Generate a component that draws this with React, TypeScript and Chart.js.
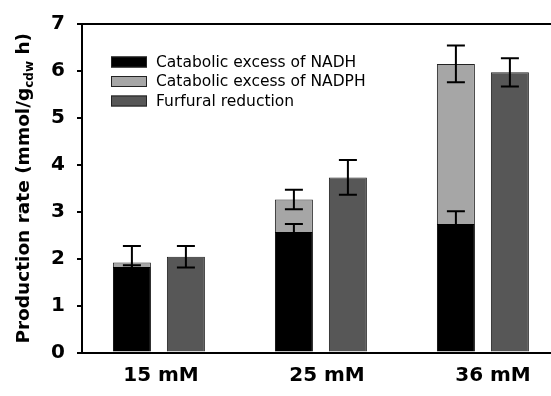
import React, { useEffect, useRef } from 'react';
import { Chart, registerables } from 'chart.js';

Chart.register(...registerables);

const categories = ['15 mM', '25 mM', '36 mM'];
const nadhExcess = [1.82, 2.57, 2.74];
const nadphExcess = [0.1, 0.69, 3.41];
const furfuralReduction = [2.04, 3.73, 5.97];
const nadhErr = [0.04, 0.17, 0.27];
const totalErr = [0.35, 0.21, 0.39];
const furfuralErr = [0.23, 0.37, 0.3];
const yTicks = [0, 1, 2, 3, 4, 5, 6, 7];
const seriesLabels = ['Catabolic excess of NADH', 'Catabolic excess of NADPH', 'Furfural reduction'];
const seriesColors = ['#000000', '#a6a6a6', '#575757'];

const FONT = "'DejaVu Sans', Verdana, sans-serif";

const errorBarPlugin = {
  id: 'errorBars',
  afterDatasetsDraw(chart: any) {
    const ctx = chart.ctx;
    const y = chart.scales.y;
    const totals = nadhExcess.map((v, i) => v + nadphExcess[i]);
    const specs = [
      { ds: 0, vals: nadhExcess, errs: nadhErr },
      { ds: 1, vals: totals, errs: totalErr },
      { ds: 2, vals: furfuralReduction, errs: furfuralErr },
    ];
    ctx.save();
    ctx.strokeStyle = '#000';
    ctx.lineWidth = 2;
    specs.forEach((s) => {
      const meta = chart.getDatasetMeta(s.ds);
      meta.data.forEach((el: any, i: number) => {
        const x = el.x;
        const yHi = y.getPixelForValue(s.vals[i] + s.errs[i]);
        const yLo = y.getPixelForValue(s.vals[i] - s.errs[i]);
        ctx.beginPath();
        ctx.moveTo(x, yLo);
        ctx.lineTo(x, yHi);
        ctx.moveTo(x - 9, yHi);
        ctx.lineTo(x + 9, yHi);
        ctx.moveTo(x - 9, yLo);
        ctx.lineTo(x + 9, yLo);
        ctx.stroke();
      });
    });
    ctx.restore();
  },
};

const decorPlugin = {
  id: 'decor',
  afterDraw(chart: any) {
    const ctx = chart.ctx;
    const a = chart.chartArea;
    ctx.save();
    // top frame line
    ctx.strokeStyle = '#000';
    ctx.lineWidth = 2;
    ctx.beginPath();
    ctx.moveTo(a.left - 5, a.top);
    ctx.lineTo(a.right, a.top);
    ctx.stroke();

    // legend
    const rows = [38, 57.5, 77];
    chart.data.datasets.forEach((ds: any, i: number) => {
      const cy = a.top + rows[i];
      const bx = a.left + 29;
      ctx.fillStyle = ds.backgroundColor;
      ctx.fillRect(bx, cy - 5.5, 36, 11);
      ctx.strokeStyle = '#222';
      ctx.lineWidth = 1;
      ctx.strokeRect(bx + 0.5, cy - 5, 35, 10);
      ctx.fillStyle = '#000';
      ctx.font = `15.5px ${FONT}`;
      ctx.textBaseline = 'middle';
      ctx.textAlign = 'left';
      ctx.fillText(ds.label, a.left + 74, cy + 0.5);
    });

    // y axis title with subscript
    const cy = (a.top + a.bottom) / 2;
    const mainFont = `bold 18.5px ${FONT}`;
    const subFont = `bold 12px ${FONT}`;
    const p1 = 'Production rate (mmol/g';
    const p2 = 'cdw';
    const p3 = ' h)';
    ctx.font = mainFont;
    const w1 = ctx.measureText(p1).width;
    const w3 = ctx.measureText(p3).width;
    ctx.font = subFont;
    const w2 = ctx.measureText(p2).width;
    const total = w1 + w2 + w3;
    ctx.translate(28.5, cy);
    ctx.rotate(-Math.PI / 2);
    ctx.fillStyle = '#000';
    ctx.textBaseline = 'alphabetic';
    ctx.textAlign = 'left';
    let x = -total / 2;
    ctx.font = mainFont;
    ctx.fillText(p1, x, 0);
    x += w1;
    ctx.font = subFont;
    ctx.fillText(p2, x, 4);
    x += w2;
    ctx.font = mainFont;
    ctx.fillText(p3, x, 0);
    ctx.restore();
  },
};

export default function App() {
  const ref = useRef<HTMLCanvasElement>(null);
  useEffect(() => {
    const positions = categories.map((_, i) => i + 1);
    const chart = new Chart(ref.current as HTMLCanvasElement, {
      type: 'bar',
      data: {
        datasets: [
          {
            label: seriesLabels[0],
            data: positions.map((p, i) => ({ x: p, y: nadhExcess[i] })),
            backgroundColor: seriesColors[0],
            borderColor: '#000',
            borderWidth: 1,
            stack: 'a',
            xAxisID: 'x',
          },
          {
            label: seriesLabels[1],
            data: positions.map((p, i) => ({ x: p, y: nadphExcess[i] })),
            backgroundColor: seriesColors[1],
            borderColor: '#222',
            borderWidth: 1,
            stack: 'a',
            xAxisID: 'x',
          },
          {
            label: seriesLabels[2],
            data: positions.map((p, i) => ({ x: p, y: furfuralReduction[i] })),
            backgroundColor: seriesColors[2],
            borderColor: '#222',
            borderWidth: 1,
            stack: 'b',
            xAxisID: 'x',
          },
        ] as any,
      },
      options: {
        animation: false,
        responsive: true,
        maintainAspectRatio: false,
        layout: { padding: { top: 19, left: 0, right: 0, bottom: 0 } },
        plugins: { legend: { display: false }, tooltip: { enabled: false } },
        datasets: { bar: { categoryPercentage: 0.6667, barPercentage: 0.7037 } } as any,
        scales: {
          x: {
            type: 'linear',
            position: 'bottom',
            weight: 0,
            offset: false,
            min: 0.5253,
            max: 3.4204,
            afterBuildTicks: (s: any) => {
              s.ticks = positions.map((v) => ({ value: v }));
            },
            ticks: { display: false },
            grid: { display: false, drawTicks: false, offset: false },
            border: { display: true, color: '#000', width: 2 },
            afterFit: (s: any) => {
              s.height = 0;
            },
          } as any,
          xl: {
            type: 'linear',
            axis: 'x',
            position: 'bottom',
            weight: 1,
            offset: false,
            min: 0.5241,
            max: 3.3494,
            afterBuildTicks: (s: any) => {
              s.ticks = positions.map((v) => ({ value: v }));
            },
            ticks: {
              callback: (v: any) => categories[Math.round(v) - 1] ?? '',
              font: { family: FONT, size: 20, weight: 'bold' },
              color: '#000',
              padding: 11.5,
              maxRotation: 0,
              autoSkip: false,
            },
            grid: { display: false, drawTicks: false, offset: false },
            border: { display: false },
            afterFit: (s: any) => {
              s.height = 43.5;
            },
          } as any,
          y: {
            stacked: true,
            min: 0,
            max: 7,
            afterBuildTicks: (s: any) => {
              s.ticks = yTicks.map((v) => ({ value: v }));
            },
            ticks: {
              font: { family: FONT, size: 20, weight: 'bold' },
              color: '#000',
              padding: 12,
            },
            grid: { drawOnChartArea: false, drawTicks: true, tickLength: 5, color: '#000', lineWidth: 2 },
            border: { display: true, color: '#000', width: 2 },
            afterFit: (s: any) => {
              s.width = 82;
            },
          } as any,
        },
      },
      plugins: [errorBarPlugin, decorPlugin],
    });
    return () => chart.destroy();
  }, []);
  return (
    <div style={{ position: 'fixed', left: 0, top: 0, width: 551, height: 396, background: '#fff' }}>
      <canvas ref={ref} />
    </div>
  );
}
